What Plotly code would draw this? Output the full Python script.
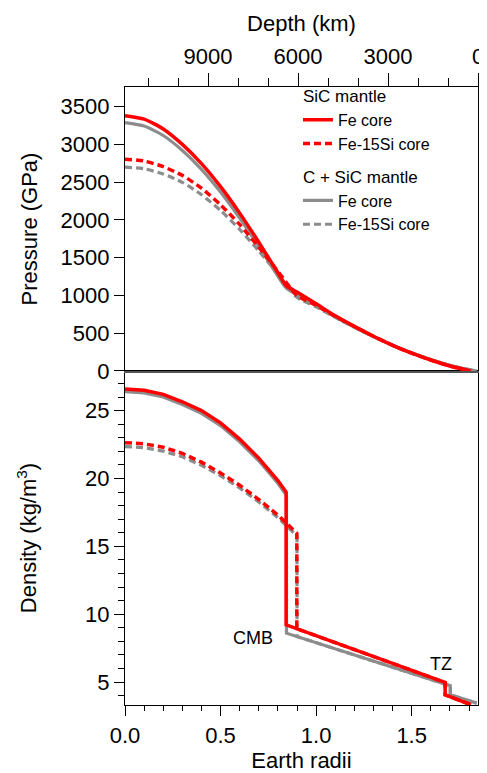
import plotly.graph_objects as go

OUTPUT_HTML = "out.html"

# ===== 数据（横轴：地球半径）=====
R_EARTH_KM = 6371
R_MAX = 1.847

# --- 压力 (GPa) ---
r_p_sic_fe = [0, 0.1, 0.2, 0.3, 0.4, 0.5, 0.6, 0.7, 0.8, 0.843,
              0.9, 1.0, 1.1, 1.2, 1.3, 1.4, 1.5, 1.6, 1.7, 1.81]
p_sic_fe = [3381, 3335, 3205, 3000, 2745, 2440, 2090, 1705, 1300, 1130,
            1045, 890, 730, 590, 460, 340, 235, 145, 65, 0]

r_p_sic_fesi = [0, 0.1, 0.2, 0.3, 0.4, 0.5, 0.6, 0.7, 0.8, 0.899,
                1.0, 1.1, 1.2, 1.3, 1.4, 1.5, 1.6, 1.7, 1.81]
p_sic_fesi = [2803, 2780, 2705, 2590, 2420, 2200, 1940, 1640, 1320, 1000,
              870, 725, 588, 460, 340, 235, 145, 65, 0]

r_p_c_fe = [0, 0.1, 0.2, 0.3, 0.4, 0.5, 0.6, 0.7, 0.8, 0.845,
            0.9, 1.0, 1.1, 1.2, 1.3, 1.4, 1.5, 1.6, 1.7, 1.8, 1.84]
p_c_fe = [3288, 3243, 3118, 2920, 2670, 2370, 2025, 1650, 1255, 1095,
          1010, 865, 715, 580, 455, 340, 240, 150, 75, 18, 0]

r_p_c_fesi = [0, 0.1, 0.2, 0.3, 0.4, 0.5, 0.6, 0.7, 0.8, 0.9,
              1.0, 1.1, 1.2, 1.3, 1.4, 1.5, 1.6, 1.7, 1.8, 1.84]
p_c_fesi = [2700, 2678, 2608, 2497, 2335, 2125, 1875, 1590, 1285, 975,
            850, 710, 578, 455, 340, 240, 150, 75, 18, 0]

# --- 密度 ---
r_d_sic_fe = [0, 0.1, 0.2, 0.3, 0.4, 0.5, 0.6, 0.7, 0.8, 0.843,
              0.843, 1.0, 1.2, 1.4, 1.6, 1.675, 1.675, 1.81]
d_sic_fe = [26.6, 26.5, 26.2, 25.65, 25.0, 24.1, 22.9, 21.5, 19.85, 19.0,
            9.22, 8.42, 7.40, 6.38, 5.36, 4.97, 4.06, 3.33]

r_d_sic_fesi = [0, 0.1, 0.2, 0.3, 0.4, 0.5, 0.6, 0.7, 0.8, 0.899,
                0.899, 1.0, 1.2, 1.4, 1.6, 1.675, 1.675, 1.81]
d_sic_fesi = [22.64, 22.55, 22.3, 21.85, 21.2, 20.4, 19.5, 18.45, 17.3, 15.97,
              8.93, 8.42, 7.40, 6.38, 5.36, 4.97, 4.06, 3.33]

r_d_c_fe = [0, 0.1, 0.2, 0.3, 0.4, 0.5, 0.6, 0.7, 0.8, 0.845,
            0.845, 1.0, 1.2, 1.4, 1.6, 1.702, 1.702, 1.84]
d_c_fe = [26.4, 26.3, 26.0, 25.45, 24.8, 23.9, 22.7, 21.3, 19.65, 18.75,
          8.6, 7.9, 7.0, 6.1, 5.19, 4.73, 4.06, 3.45]

r_d_c_fesi = [0, 0.1, 0.2, 0.3, 0.4, 0.5, 0.6, 0.7, 0.8, 0.9,
              0.9, 1.0, 1.2, 1.4, 1.6, 1.702, 1.702, 1.84]
d_c_fesi = [22.35, 22.27, 22.02, 21.6, 20.97, 20.2, 19.3, 18.27, 17.12, 15.77,
            8.35, 7.9, 7.0, 6.1, 5.19, 4.73, 4.06, 3.45]

RED = "#FF0000"
GRAY = "#8C8C8C"
DASH = "7px,4px"
FONT = "Liberation Sans, Arial, Helvetica, sans-serif"

fig = go.Figure()

# 灰线先画（在下层）
series = [
    # (r_p, p, r_d, d, color, dash, name, group, group_title, rank)
    (r_p_c_fe, p_c_fe, r_d_c_fe, d_c_fe, GRAY, "solid", "Fe core", "c", "C + SiC mantle", 3),
    (r_p_c_fesi, p_c_fesi, r_d_c_fesi, d_c_fesi, GRAY, DASH, "Fe-15Si core", "c", "C + SiC mantle", 4),
    (r_p_sic_fe, p_sic_fe, r_d_sic_fe, d_sic_fe, RED, "solid", "Fe core", "sic", "SiC mantle", 1),
    (r_p_sic_fesi, p_sic_fesi, r_d_sic_fesi, d_sic_fesi, RED, DASH, "Fe-15Si core", "sic", "SiC mantle", 2),
]

for rp, p, rd, d, color, dash, name, group, gtitle, rank in series:
    width = 3.5 if color == RED else 3.2
    fig.add_trace(go.Scatter(
        x=rp, y=p, xaxis="x2", yaxis="y2", mode="lines",
        line=dict(color=color, width=width, dash=dash, shape="spline", smoothing=0.6),
        name=name, legendgroup=group, showlegend=False,
    ))
    fig.add_trace(go.Scatter(
        x=rd, y=d, xaxis="x", yaxis="y", mode="lines",
        line=dict(color=color, width=width, dash=dash),
        name=name, legendgroup=group, legendgrouptitle_text=gtitle,
        legendrank=rank, showlegend=True,
    ))

# 深度轴（主刻度 + 次刻度）需要（空）轨迹才能显示
for xa in ("x3", "x4"):
    fig.add_trace(go.Scatter(
        x=[R_MAX * R_EARTH_KM, 0], y=[None, None], xaxis=xa, yaxis="y2",
        mode="lines", showlegend=False, hoverinfo="skip",
    ))

axis_common = dict(
    showline=True, linecolor="black", linewidth=1.2,
    ticks="outside", tickcolor="black", tickwidth=1.2,
    showgrid=False, zeroline=False, automargin=False,
    tickfont=dict(size=22, color="black"),
    title_font=dict(size=22, color="black"),
)

split = 0.5405

# 页面 body 有 8px 边距，边距按此补偿
fig.update_layout(
    width=487, height=773,
    margin=dict(l=117, r=17, t=79, b=76),
    plot_bgcolor="white", paper_bgcolor="white",
    font=dict(family=FONT, color="black"),
    xaxis=dict(
        **axis_common, domain=[0, 1], anchor="y",
        range=[0, R_MAX], tick0=0, dtick=0.5, tickformat=".1f", ticklen=10,
        minor=dict(dtick=0.1, ticklen=5, ticks="outside", tickcolor="black"),
        mirror=True, title=dict(text="Earth radii", standoff=6),
    ),
    yaxis=dict(
        **axis_common, domain=[0, split], anchor="x",
        range=[3.31, 27.92], tick0=0, dtick=5, ticklen=10,
        minor=dict(dtick=1, ticklen=6, ticks="outside", tickcolor="black"),
        mirror="ticks", title=dict(text="Density (kg/m<sup>3</sup>)", standoff=42),
    ),
    xaxis2=dict(
        domain=[0, 1], anchor="y2", range=[0, R_MAX],
        showline=True, linecolor="#555555", linewidth=1.5, automargin=False,
        showticklabels=False, ticks="", showgrid=False, zeroline=False,
    ),
    yaxis2=dict(
        **axis_common, domain=[split, 1], anchor="x2",
        range=[0, 3760], tick0=0, dtick=500, ticklen=10,
        mirror="ticks", title=dict(text="Pressure (GPa)", standoff=16),
    ),
    xaxis3=dict(
        **axis_common, overlaying="x2", anchor="y2", side="top",
        range=[R_MAX * R_EARTH_KM, 0], tick0=0, dtick=3000, ticklen=13,
        tickformat="d",
        title=dict(text="Depth (km)", standoff=6),
    ),
    xaxis4=dict(
        overlaying="x2", anchor="y2", side="top", automargin=False,
        range=[R_MAX * R_EARTH_KM, 0], tick0=0, dtick=1000,
        ticks="outside", ticklen=8, tickwidth=1.2, tickcolor="black",
        showticklabels=False, showline=False, showgrid=False, zeroline=False,
    ),
    legend=dict(
        x=0.49, y=1.015, xanchor="left", yanchor="top",
        bgcolor="rgba(0,0,0,0)", font=dict(size=16, color="black"),
        grouptitlefont=dict(size=17, color="black"),
        traceorder="grouped", tracegroupgap=8, itemwidth=30,
    ),
    annotations=[
        dict(x=0.67, y=8.26, xref="x", yref="y", text="CMB", showarrow=False,
             font=dict(size=18, color="black")),
        dict(x=1.652, y=6.35, xref="x", yref="y", text="TZ", showarrow=False,
             font=dict(size=18, color="black")),
    ],
)

fig.write_html(OUTPUT_HTML)
print(f"wrote {OUTPUT_HTML}")
